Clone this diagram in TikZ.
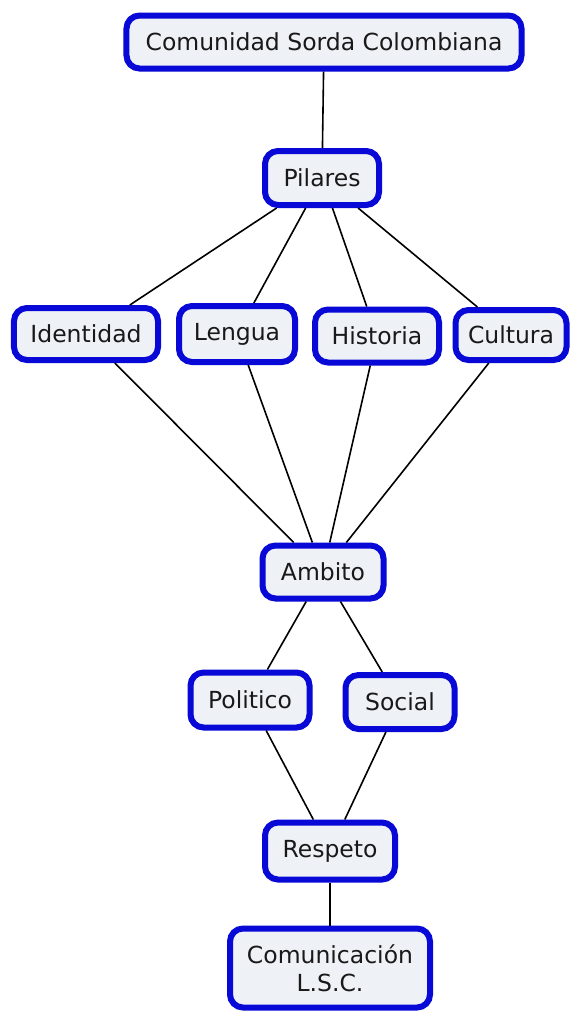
\documentclass[tikz,border=0pt]{standalone}
\usepackage{fontspec}
\setmainfont{DejaVu Sans}
\definecolor{boxblue}{RGB}{8,8,215}
\definecolor{boxfill}{RGB}{238,242,247}
\begin{document}
\begin{tikzpicture}[x=1bp,y=-1bp,
  concept/.style={draw=boxblue, line width=6bp, fill=boxfill, rounded corners=13bp,
    font=\fontsize{23.5bp}{28bp}\selectfont, align=center, inner sep=0pt, text=black!90},
  link/.style={line width=1.6bp, black}]
\fill[white] (0,0) rectangle (574,1013);
\node[concept, minimum width=395bp, minimum height=53bp] (csc) at (324,42) {Comunidad Sorda Colombiana};
\node[concept, minimum width=114bp, minimum height=54bp] (pil) at (322,178) {Pilares};
\node[concept, minimum width=144bp, minimum height=52bp] (ide) at (86,334) {Identidad};
\node[concept, minimum width=116bp, minimum height=56bp] (len) at (237,334) {Lengua};
\node[concept, minimum width=124bp, minimum height=53bp] (his) at (377,336) {Historia};
\node[concept, minimum width=111bp, minimum height=50bp] (cul) at (511,335) {Cultura};
\node[concept, minimum width=121bp, minimum height=53bp] (amb) at (323,572) {Ambito};
\node[concept, minimum width=119bp, minimum height=55bp] (pol) at (250,700) {Politico};
\node[concept, minimum width=109bp, minimum height=54bp] (soc) at (400,702) {Social};
\node[concept, minimum width=130bp, minimum height=57bp] (res) at (330,851) {Respeto};
\node[concept, minimum width=200bp, minimum height=79bp] (com) at (330,968) {Comunicación\\L.S.C.};
\draw[link] (csc) -- (pil);
\draw[link] (pil) -- (ide);
\draw[link] (pil) -- (len);
\draw[link] (pil) -- (his);
\draw[link] (pil) -- (cul);
\draw[link] (ide) -- (amb);
\draw[link] (len) -- (amb);
\draw[link] (his) -- (amb);
\draw[link] (cul) -- (amb);
\draw[link] (amb) -- (pol);
\draw[link] (amb) -- (soc);
\draw[link] (pol) -- (res);
\draw[link] (soc) -- (res);
\draw[link] (res) -- (com);
\end{tikzpicture}
\end{document}
